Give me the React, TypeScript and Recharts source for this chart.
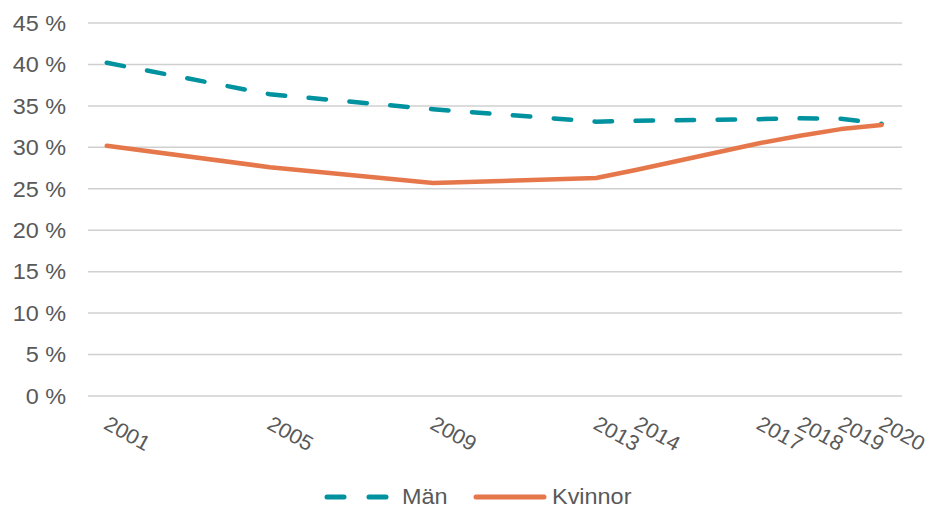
import React from "react";
import { LineChart, Line, XAxis, YAxis, CartesianGrid, Legend } from "recharts";

const years = [2001, 2005, 2009, 2013, 2014, 2017, 2018, 2019, 2020];
const man = [40.2, 36.4, 34.6, 33.1, 33.2, 33.4, 33.5, 33.45, 32.85];
const kvinnor = [30.2, 27.6, 25.7, 26.3, 27.3, 30.5, 31.4, 32.2, 32.7];
const yTicks = [0, 5, 10, 15, 20, 25, 30, 35, 40, 45];

const data = years.map((y, i) => ({ year: y, man: man[i], kvinnor: kvinnor[i] }));

const TEAL = "#00929F";
const ORANGE = "#E5774B";
const TEXT = "#595959";
const FONT = "'Liberation Sans', Arial, sans-serif";
const FS = 21.5;
const SX = 1.09;

const XTick = (props: any) => {
  const { x, y, payload } = props;
  return (
    <g transform={`translate(${x},${y}) rotate(29) translate(8,23) scale(1.04,1)`}>
      <text x={0} y={0} textAnchor="start" fill={TEXT} fontSize={21} fontFamily={FONT}>
        {payload.value}
      </text>
    </g>
  );
};

const YTick = (props: any) => {
  const { x, y, payload } = props;
  return (
    <g transform={`translate(${x},${y}) scale(${SX},1)`}>
      <text x={0} y={0} dy="0.36em" textAnchor="end" fill={TEXT} fontSize={FS} fontFamily={FONT}>
        {`${payload.value} %`}
      </text>
    </g>
  );
};

const labelStyle: React.CSSProperties = {
  display: "inline-block",
  transform: `scaleX(${SX})`,
  transformOrigin: "left center",
};

const LegendContent = () => (
  <div
    style={{
      display: "flex",
      alignItems: "center",
      paddingLeft: 323,
      fontFamily: FONT,
      fontSize: FS,
      color: TEXT,
      height: 32,
    }}
  >
    <svg width={68} height={12} style={{ display: "block" }}>
      <line x1={4} y1={6} x2={64} y2={6} stroke={TEAL} strokeWidth={5} strokeDasharray="17 25" strokeLinecap="round" />
    </svg>
    <span style={{ ...labelStyle, marginLeft: 11, width: 62 }}>Män</span>
    <svg width={76} height={12} style={{ display: "block", marginLeft: 8 }}>
      <line x1={4} y1={6} x2={72} y2={6} stroke={ORANGE} strokeWidth={5} strokeLinecap="round" />
    </svg>
    <span style={{ ...labelStyle, marginLeft: 4 }}>Kvinnor</span>
  </div>
);

export default function App() {
  return (
    <div style={{ position: "absolute", left: 0, top: 0, width: 933, height: 508, background: "#fff" }}>
      <LineChart width={933} height={508} data={data} margin={{ top: 23, right: 31, left: 0, bottom: 0 }}>
        <CartesianGrid horizontal vertical={false} stroke="#D0D0D0" strokeWidth={1.5} />
        <XAxis
          dataKey="year"
          type="number"
          domain={[2000.54, 2020.5]}
          ticks={years}
          interval={0}
          allowDataOverflow
          axisLine={false}
          tickLine={false}
          height={80}
          tick={<XTick />}
        />
        <YAxis
          type="number"
          domain={[0, 45]}
          ticks={yTicks}
          interval={0}
          width={88}
          axisLine={false}
          tickLine={false}
          tickSize={0}
          tickMargin={22}
          tick={<YTick />}
        />
        <Legend verticalAlign="bottom" height={32} content={<LegendContent />} wrapperStyle={{ top: 481, left: 0, width: 933 }} />
        <Line
          type="linear"
          dataKey="man"
          name="Män"
          stroke={TEAL}
          strokeWidth={4.5}
          strokeDasharray="17.5 23.5"
          strokeLinecap="round"
          dot={false}
          isAnimationActive={false}
        />
        <Line
          type="linear"
          dataKey="kvinnor"
          name="Kvinnor"
          stroke={ORANGE}
          strokeWidth={4.5}
          strokeLinecap="round"
          strokeLinejoin="round"
          dot={false}
          isAnimationActive={false}
        />
      </LineChart>
    </div>
  );
}
